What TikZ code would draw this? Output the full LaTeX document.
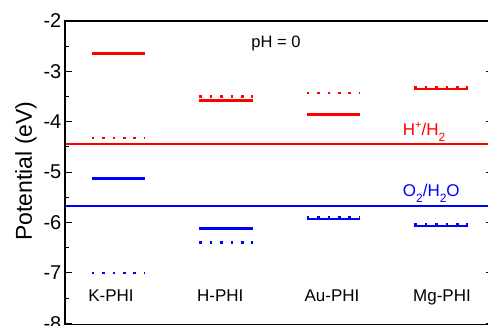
\documentclass[tikz,border=0pt]{standalone}
\usepackage{fontspec}
\setmainfont{Liberation Sans}
\begin{document}
\begin{tikzpicture}[x=1pt,y=-1pt,
  frame/.style={line width=1.3pt,black},
  tick/.style={line width=1pt,black},
  reflinered/.style={line width=2pt,red},
  reflineblue/.style={line width=1.6pt,blue},
  solidlvl/.style={line width=2.6pt},
  dotlvl/.style={line width=2.6pt,dash pattern=on 2.6pt off 7.8pt},
  ticklab/.style={anchor=east,font=\fontsize{20}{20}\selectfont,inner sep=0pt},
  matlab/.style={anchor=base,font=\fontsize{17}{17}\selectfont,inner sep=0pt}]
\useasboundingbox (0,0) rectangle (488,326);
\fill[white] (0,0) rectangle (488,326);
\begin{scope}[y=50.4pt,yshift=79.8pt]
  % reference lines
  \draw[reflinered] (65,-4.44) -- (493,-4.44);
  \draw[reflineblue] (65,-5.67) -- (493,-5.67);
  % frame
  \draw[frame] (65,-2) rectangle (493,-8.02);
  \foreach \v in {2,...,8}{
    \draw[tick] (65,-\v) -- (72,-\v);
    \draw[tick] (493,-\v) -- (486,-\v);
    \node[ticklab] (t\v) at (61.5,-\v) {-\v};
  }
  \foreach \v in {2.5,3.5,4.5,5.5,6.5,7.5}{
    \draw[tick] (65,-\v) -- (69,-\v);
    \draw[tick] (493,-\v) -- (489,-\v);
  }
  % K-PHI
  \draw[solidlvl,red] (91.7,-2.64) -- (145.3,-2.64);
  \draw[dotlvl,red] (91.7,-4.32) -- (145.3,-4.32);
  \draw[solidlvl,blue] (91.7,-5.12) -- (145.3,-5.12);
  \draw[dotlvl,blue] (91.7,-7.0) -- (145.3,-7.0);
  % H-PHI
  \draw[dotlvl,red] (199.3,-3.50) -- (252.7,-3.50);
  \draw[solidlvl,red] (199.3,-3.58) -- (252.7,-3.58);
  \draw[solidlvl,blue] (199.3,-6.12) -- (252.7,-6.12);
  \draw[dotlvl,blue] (199.3,-6.39) -- (252.7,-6.39);
  % Au-PHI
  \draw[dotlvl,red] (306.7,-3.43) -- (360.3,-3.43);
  \draw[solidlvl,red] (306.7,-3.86) -- (360.3,-3.86);
  \draw[dotlvl,blue] (306.7,-5.885) -- (360.3,-5.885);
  \draw[solidlvl,blue] (306.7,-5.93) -- (360.3,-5.93);
  % Mg-PHI
  \draw[dotlvl,red] (414.3,-3.325) -- (468,-3.325);
  \draw[solidlvl,red] (414.3,-3.35) -- (468,-3.35);
  \draw[dotlvl,blue] (414.3,-6.035) -- (468,-6.035);
  \draw[solidlvl,blue] (414.3,-6.07) -- (468,-6.07);
\end{scope}
% texts (pixel coordinates)
\node[rotate=90,font=\fontsize{23}{23}\selectfont,inner sep=0pt] (ylab) at (26,171) {Potential (eV)};
\node[anchor=base,font=\fontsize{16.5}{16.5}\selectfont,inner sep=0pt] (ph) at (276,47.5) {pH = 0};
\node[matlab] (k) at (111,301.5) {K-PHI};
\node[matlab] (h) at (220.3,301.5) {H-PHI};
\node[matlab] (au) at (332,301.5) {Au-PHI};
\node[matlab] (mg) at (442,301.5) {Mg-PHI};
\node[anchor=base west,inner sep=0pt,red,font=\fontsize{17}{17}\selectfont] (hh) at (402.7,136)
  {H\raisebox{0.45em}{\fontsize{11}{11}\selectfont +}/H\raisebox{-0.35em}{\fontsize{12}{12}\selectfont 2}};
\node[anchor=base west,inner sep=0pt,blue,font=\fontsize{17}{17}\selectfont] (oh) at (402.7,196.7)
  {O\raisebox{-0.35em}{\fontsize{12}{12}\selectfont 2}/H\raisebox{-0.35em}{\fontsize{12}{12}\selectfont 2}O};
\end{tikzpicture}
\end{document}
